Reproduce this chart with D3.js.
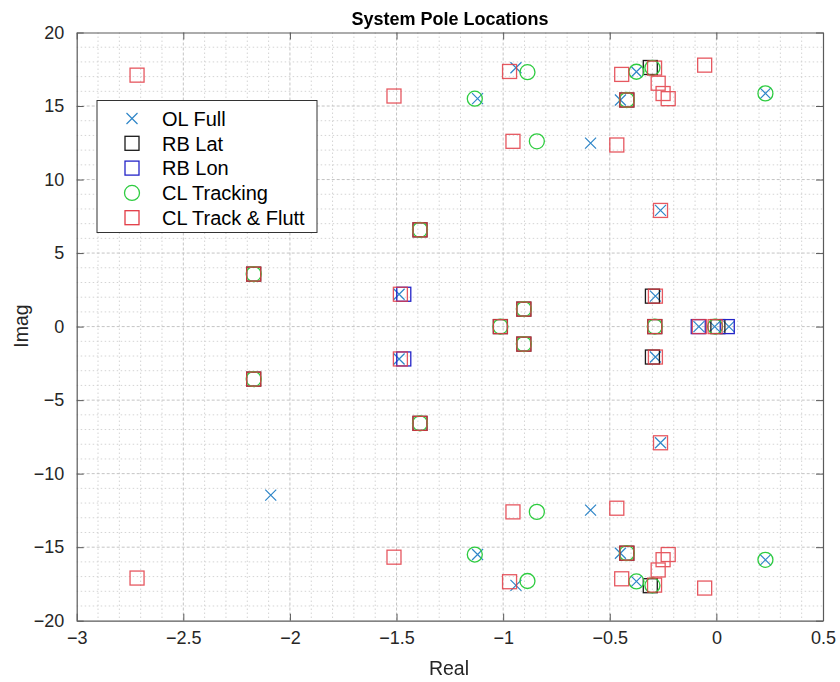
<!DOCTYPE html>
<html>
<head>
<meta charset="utf-8">
<script src="https://cdn.jsdelivr.net/npm/d3@7"></script>
<style>
  html, body { margin: 0; padding: 0; background: #fff; }
  svg { display: block; font-family: "Liberation Sans", Arial, Helvetica, sans-serif; }
</style>
</head>
<body>
<svg id="chart" width="840" height="682"></svg>
<script>
// Pole locations [real, imag] per system
const olFull = [
  [-2.09, 11.46], [-2.09, -11.46],
  [-1.12, 15.5], [-1.12, -15.5],
  [-0.94, 17.6], [-0.94, -17.6],
  [-0.59, 12.48], [-0.59, -12.48],
  [-0.45, 15.41], [-0.45, -15.41],
  [-0.375, 17.33], [-0.375, -17.33],
  [-0.262, 7.9], [-0.262, -7.9],
  [-1.488, 2.2], [-1.488, -2.2],
  [-0.286, 2.07], [-0.286, -2.07],
  [0.23, 15.86], [0.23, -15.86],
  [-0.082, 0], [-0.008, 0], [0.059, 0]
];
const rbLat = [
  [-2.17, 3.57], [-2.17, -3.57],
  [-1.39, 6.58], [-1.39, -6.58],
  [-1.013, 0],
  [-0.903, 1.19], [-0.903, -1.19],
  [-0.289, 0],
  [-0.30, 2.07], [-0.30, -2.07],
  [-0.42, 15.41], [-0.42, -15.41],
  [-0.31, 17.62], [-0.31, -17.62],
  [0.007, 0]
];
const rbLon = [
  [-1.466, 2.2], [-1.466, -2.2],
  [-0.085, 0], [0.051, 0]
];
const clTracking = [
  [-1.133, 15.5], [-1.133, -15.5],
  [-0.886, 17.3], [-0.886, -17.3],
  [-0.842, 12.6], [-0.842, -12.6],
  [-0.375, 17.33], [-0.375, -17.33],
  [0.23, 15.86], [0.23, -15.86],
  [-2.17, 3.57], [-2.17, -3.57],
  [-1.39, 6.58], [-1.39, -6.58],
  [-1.013, 0],
  [-0.903, 1.19], [-0.903, -1.19],
  [-0.289, 0],
  [-0.42, 15.41], [-0.42, -15.41],
  [-0.30, 17.6], [-0.30, -17.6],
  [-0.006, 0]
];
const clTrackFlutt = [
  [-2.717, 17.1], [-2.717, -17.1],
  [-1.512, 15.68], [-1.512, -15.68],
  [-0.97, 17.35], [-0.97, -17.35],
  [-0.954, 12.6], [-0.954, -12.6],
  [-0.467, 12.35], [-0.467, -12.35],
  [-0.444, 17.15], [-0.444, -17.15],
  [-0.273, 16.55], [-0.273, -16.55],
  [-0.25, 15.85], [-0.25, -15.85],
  [-0.226, 15.5], [-0.226, -15.5],
  [-0.055, 17.78], [-0.055, -17.78],
  [-0.262, 7.9], [-0.262, -7.9],
  [-1.482, 2.2], [-1.482, -2.2],
  [-0.286, 2.07], [-0.286, -2.07],
  [-0.08, 0], [-0.006, 0],
  [-2.17, 3.57], [-2.17, -3.57],
  [-1.39, 6.58], [-1.39, -6.58],
  [-1.013, 0],
  [-0.903, 1.19], [-0.903, -1.19],
  [-0.289, 0],
  [-0.42, 15.41], [-0.42, -15.41],
  [-0.29, 17.58], [-0.29, -17.58]
];

const seriesNames = ["OL Full", "RB Lat", "RB Lon", "CL Tracking", "CL Track & Flutt"];
const xTicks = [-3, -2.5, -2, -1.5, -1, -0.5, 0, 0.5];
const yTicks = [-20, -15, -10, -5, 0, 5, 10, 15, 20];

const series = [
  { name: seriesNames[0], data: olFull,       marker: "x",      color: "#2f86c8" },
  { name: seriesNames[1], data: rbLat,        marker: "square", color: "#1a1a1a" },
  { name: seriesNames[2], data: rbLon,        marker: "square", color: "#2424c8" },
  { name: seriesNames[3], data: clTracking,   marker: "circle", color: "#2ecc40" },
  { name: seriesNames[4], data: clTrackFlutt, marker: "square", color: "#e23a44" }
];

const svg = d3.select("#chart");
const L = 76.7, R = 823, T = 32.5, B = 620.7;

const x = d3.scaleLinear().domain([-3, 0.5]).range([L, R]);
const y = d3.scaleLinear().domain([-20, 20]).range([B, T]);

// grid: minor then major
const grid = svg.append("g");
const minorX = d3.range(-30, 6).map(d => d / 10).filter(d => Math.abs(d * 2 - Math.round(d * 2)) > 1e-6);
const minorY = d3.range(-20, 21).filter(d => d % 5 !== 0);
grid.selectAll(".mx").data(minorX).join("line")
  .attr("x1", d => x(d)).attr("x2", d => x(d)).attr("y1", T).attr("y2", B)
  .attr("stroke", "#d4d4d4").attr("stroke-width", 1).attr("stroke-dasharray", "1.5,2.5");
grid.selectAll(".my").data(minorY).join("line")
  .attr("y1", d => y(d)).attr("y2", d => y(d)).attr("x1", L).attr("x2", R)
  .attr("stroke", "#d4d4d4").attr("stroke-width", 1).attr("stroke-dasharray", "1.5,2.5");
grid.selectAll(".gx").data(xTicks.slice(1, -1)).join("line")
  .attr("x1", d => x(d)).attr("x2", d => x(d)).attr("y1", T).attr("y2", B)
  .attr("stroke", "#c4c4c4").attr("stroke-width", 1).attr("stroke-dasharray", "3,2");
grid.selectAll(".gy").data(yTicks.slice(1, -1)).join("line")
  .attr("y1", d => y(d)).attr("y2", d => y(d)).attr("x1", L).attr("x2", R)
  .attr("stroke", "#c4c4c4").attr("stroke-width", 1).attr("stroke-dasharray", "3,2");

// axes (ticks point inward, box on all sides); labels use a true minus sign
const fmt = d => String(d).replace("-", "\u2212");
const axStyle = g => {
  g.select(".domain").attr("stroke", "#5a5a5a").attr("stroke-width", 1.2);
  g.selectAll(".tick line").attr("stroke", "#5a5a5a").attr("stroke-width", 1);
  g.selectAll("text").attr("fill", "#262626").style("font-size", "18px")
    .style("font-family", "'Liberation Sans', Arial, sans-serif");
};
svg.append("g").attr("transform", `translate(0,${B})`)
  .call(d3.axisBottom(x).tickValues(xTicks).tickFormat(fmt).tickSize(-7).tickSizeOuter(0).tickPadding(11))
  .call(axStyle);
svg.append("g").attr("transform", `translate(0,${T})`)
  .call(d3.axisTop(x).tickValues(xTicks).tickFormat("").tickSize(-7).tickSizeOuter(0))
  .call(axStyle);
svg.append("g").attr("transform", `translate(${L},0)`)
  .call(d3.axisLeft(y).tickValues(yTicks).tickFormat(fmt).tickSize(-7).tickSizeOuter(0).tickPadding(12.5))
  .call(axStyle);
svg.append("g").attr("transform", `translate(${R},0)`)
  .call(d3.axisRight(y).tickValues(yTicks).tickFormat("").tickSize(-7).tickSizeOuter(0))
  .call(axStyle);

// markers
function drawMarker(sel, type, color, s) {
  if (type === "x") {
    const h = s / 2;
    sel.append("path").attr("d", `M${-h},${-h}L${h},${h}M${-h},${h}L${h},${-h}`)
      .attr("stroke", color).attr("stroke-width", 1.2).attr("fill", "none");
  } else if (type === "square") {
    sel.append("rect").attr("x", -s / 2).attr("y", -s / 2).attr("width", s).attr("height", s)
      .attr("stroke", color).attr("stroke-width", 1.3).attr("fill", "none");
  } else {
    sel.append("circle").attr("r", s / 2)
      .attr("stroke", color).attr("stroke-width", 1.3).attr("fill", "none");
  }
}
const sizes = { x: 11, square: 14, circle: 15 };

const plot = svg.append("g");
series.forEach(s => {
  const g = plot.append("g").attr("opacity", s.marker === "square" && s.color === "#e23a44" ? 0.85 : 1);
  g.selectAll("g").data(s.data).join("g")
    .attr("transform", d => `translate(${x(d[0])},${y(d[1])})`)
    .each(function () { drawMarker(d3.select(this), s.marker, s.color, sizes[s.marker]); });
});

// legend
const lg = svg.append("g").attr("transform", "translate(97,100.5)");
lg.append("rect").attr("width", 220).attr("height", 132)
  .attr("fill", "#fff").attr("stroke", "#333").attr("stroke-width", 1);
series.forEach((s, i) => {
  const row = lg.append("g").attr("transform", `translate(35,${18 + i * 24.8})`);
  drawMarker(row, s.marker, s.color, sizes[s.marker]);
  row.append("text").attr("x", 30).attr("y", 0).attr("dy", "0.36em")
    .style("font-size", "20px").attr("fill", "#000").text(s.name);
});

// titles
svg.append("text").attr("x", 450).attr("y", 25).attr("text-anchor", "middle")
  .style("font-size", "18px").style("font-weight", "bold").attr("fill", "#000")
  .text("System Pole Locations");
svg.append("text").attr("x", 449).attr("y", 675).attr("text-anchor", "middle")
  .style("font-size", "19.5px").attr("fill", "#262626").text("Real");
svg.append("text").attr("transform", "translate(28,326) rotate(-90)").attr("text-anchor", "middle")
  .style("font-size", "19.5px").attr("fill", "#262626").text("Imag");
</script>
</body>
</html>
